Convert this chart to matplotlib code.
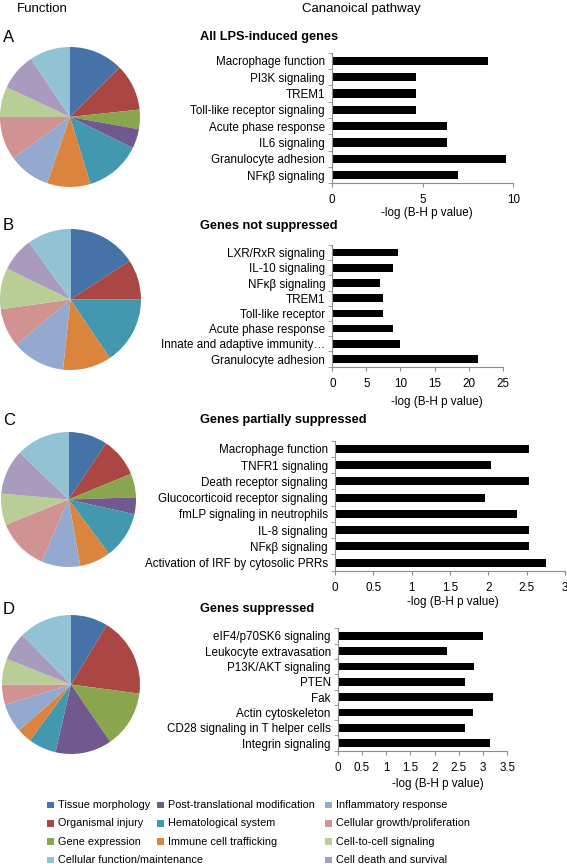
import matplotlib
matplotlib.use('Agg')
import matplotlib.pyplot as plt
from matplotlib.patches import Rectangle
import numpy as np

plt.rcParams['font.family'] = ['Liberation Sans', 'DejaVu Sans']

W, H = 567, 864

# ---- data ----
functions = ['Tissue morphology', 'Organismal injury', 'Gene expression',
             'Post-translational modification', 'Hematological system',
             'Immune cell trafficking', 'Inflammatory response',
             'Cellular growth/proliferation', 'Cell-to-cell signaling',
             'Cell death and survival', 'Cellular function/maintenance']
colors = ['#4572A7', '#AA4643', '#89A54E', '#71588F', '#4198AF', '#DB843D',
          '#93A9CF', '#D19392', '#B9CD96', '#A99BBD', '#92C3D4']

pie_a = [12.5, 10.8, 4.5, 4.5, 13.0, 10.0, 9.7, 10.0, 7.0, 8.6, 9.4]
pie_b = [15.8, 9.2, 0, 0, 15.6, 11.1, 12.2, 8.9, 9.4, 7.8, 10.0]
pie_c = [9.4, 9.4, 5.7, 4.0, 11.3, 7.4, 9.3, 12.4, 7.5, 10.8, 12.8]
pie_d = [8.7, 18.4, 13.3, 13.2, 6.5, 3.4, 6.8, 4.7, 6.0, 6.6, 12.4]

labels_a = ['Macrophage function', 'PI3K signaling', 'TREM1',
            'Toll-like receptor signaling', 'Acute phase response',
            'IL6 signaling', 'Granulocyte adhesion', 'NFκβ signaling']
vals_a = [8.62, 4.64, 4.64, 4.64, 6.37, 6.37, 9.6, 6.94]

labels_b = ['LXR/RxR signaling', 'IL-10 signaling', 'NFκβ signaling', 'TREM1',
            'Toll-like receptor', 'Acute phase response',
            'Innate and adaptive immunity…', 'Granulocyte adhesion']
vals_b = [9.7, 8.95, 7.0, 7.5, 7.5, 8.95, 9.95, 21.4]

labels_c = ['Macrophage function', 'TNFR1 signaling', 'Death receptor signaling',
            'Glucocorticoid receptor signaling', 'fmLP signaling in neutrophils',
            'IL-8 signaling', 'NFκβ signaling',
            'Activation of IRF by cytosolic PRRs']
vals_c = [2.53, 2.03, 2.53, 1.95, 2.37, 2.53, 2.53, 2.75]

labels_d = ['eIF4/p70SK6 signaling', 'Leukocyte extravasation',
            'P13K/AKT signaling', 'PTEN', 'Fak', 'Actin cytoskeleton',
            'CD28 signaling in T helper cells', 'Integrin signaling']
vals_d = [3.0, 2.26, 2.82, 2.63, 3.21, 2.79, 2.63, 3.14]

titles = ['All LPS-induced genes', 'Genes not suppressed',
          'Genes partially suppressed', 'Genes suppressed']
letters = ['A', 'B', 'C', 'D']
xmax = [10, 25, 3, 3.5]
xstep = [5, 5, 0.5, 0.5]


def box(l, t, r, b):
    return [l / W, 1 - b / H, (r - l) / W, (b - t) / H]


fig = plt.figure(figsize=(W / 100, H / 100), dpi=100)

pie_boxes = [(0, 47, 140, 187), (0, 229, 141, 370), (1, 432, 136, 567), (2, 615, 140, 754)]
bar_boxes = [(331.7, 52.7, 513.3, 183.3), (332.3, 245, 502.7, 366.7),
             (335, 440.7, 565, 570.7), (337.7, 628.3, 507.3, 750.7)]
title_y = [37, 226, 420, 609]
xlab_pos = [(0.523, -0.227), (0.614, -0.288), (0.513, -0.238), (0.591, -0.272)]

pies = [pie_a, pie_b, pie_c, pie_d]
bar_labels = [labels_a, labels_b, labels_c, labels_d]
bar_vals = [vals_a, vals_b, vals_c, vals_d]

axis_grey = '#8c8c8c'
fs = 8.4

for i in range(4):
    axp = fig.add_axes(box(*pie_boxes[i]))
    axp.pie(pies[i], colors=colors, startangle=90, counterclock=False,
            radius=1, wedgeprops=dict(linewidth=0))
    axp.set_xlim(-1, 1)
    axp.set_ylim(-1, 1)
    axp.set_aspect('auto')
    axp.axis('off')

    ax = fig.add_axes(box(*bar_boxes[i]))
    y = np.arange(len(bar_vals[i]))
    ax.barh(y, bar_vals[i], height=0.5, color='black')
    ax.set_ylim(len(y) - 0.5, -0.5)
    ax.set_xlim(0, xmax[i])
    ax.set_yticks(y)
    ax.set_yticklabels(bar_labels[i], fontsize=fs)
    ax.set_yticks(np.arange(-0.5, len(y)), minor=True)
    ax.tick_params(axis='y', which='major', length=0, pad=5)
    ax.tick_params(axis='y', which='minor', length=3, color=axis_grey, direction='out')
    xt = np.arange(0, xmax[i] + 1e-9, xstep[i])
    ax.set_xticks(xt)
    ax.set_xticklabels([f'{v:g}' for v in xt], fontsize=fs)
    ax.tick_params(axis='x', length=3, color=axis_grey, direction='out', pad=5)
    for s in ['top', 'right']:
        ax.spines[s].set_visible(False)
    for s in ['left', 'bottom']:
        ax.spines[s].set_color(axis_grey)
        ax.spines[s].set_linewidth(0.8)
    ax.set_xlabel('-log (B-H p value)', fontsize=fs)
    ax.xaxis.set_label_coords(*xlab_pos[i])
    ax.xaxis.label.set_verticalalignment('center')

    fig.text(200 / W, 1 - title_y[i] / H, titles[i], fontsize=9.2,
             fontweight='bold', va='center', ha='left')
    fig.text(3 / W, 1 - title_y[i] / H, letters[i], fontsize=12,
             va='center', ha='left')

fig.text(42 / W, 1 - 9 / H, 'Function', fontsize=9.5, ha='center', va='center')
fig.text(361 / W, 1 - 9 / H, 'Cananoical pathway', fontsize=9.5, ha='center', va='center')

# legend
leg_cols = [[0, 1, 2, 10], [3, 4, 5], [6, 7, 8, 9]]
col_x = [47, 157, 325]
row_y = [805, 823.3, 841.7, 860]
sq = 6.5
for cx, idxs in zip(col_x, leg_cols):
    for r, k in enumerate(idxs):
        fig.patches.append(Rectangle((cx / W, 1 - (row_y[r] + sq / 2) / H),
                                     sq / W, sq / H, transform=fig.transFigure,
                                     facecolor=colors[k], edgecolor='none'))
        fig.text((cx + sq + 4.5) / W, 1 - row_y[r] / H, functions[k],
                 fontsize=7.8, va='center', ha='left')

fig.savefig('out.png', dpi=100)
